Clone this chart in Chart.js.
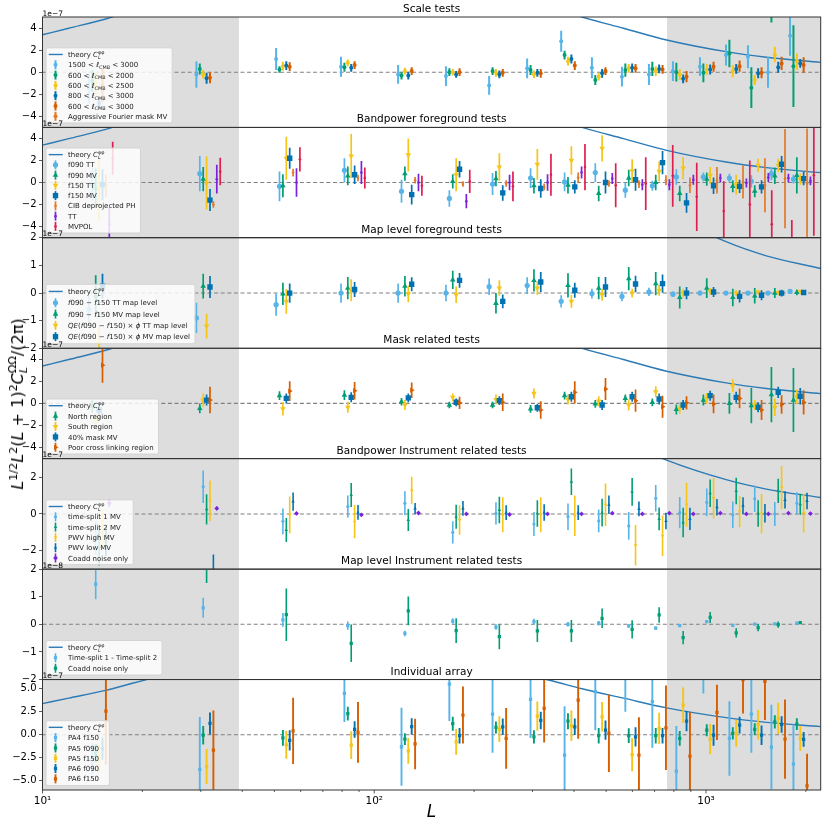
<!DOCTYPE html>
<html>
<head>
<meta charset="utf-8">
<script src="https://cdn.jsdelivr.net/npm/chart.js@4.4.1/dist/chart.umd.min.js"></script>
<style>
  html, body { margin: 0; padding: 0; background: #fff; }
  #fig { position: relative; width: 831px; height: 825px; overflow: hidden; font-family: "DejaVu Sans"; }
  #fig canvas { position: absolute; left: 0; }
  #ylab { position: absolute; left: 19px; top: 403.5px; transform: translate(-50%, -50%) rotate(-90deg);
          font: 16px "DejaVu Sans"; line-height: 16px; white-space: nowrap; color: #000; z-index: 5; }
  #ylab .sp { font-size: 70%; position: relative; top: -0.55em; }
  #ylab .ss { font-size: 70%; display: inline-block; position: relative; }
  #ylab .ss .up { position: relative; top: -0.6em; }
  #ylab .ss .dn { position: absolute; left: 0; top: 0.35em; }
</style>
</head>
<body>
<div id="fig">
  <div id="ylab"><i>L</i><span class="sp">1/2</span><i>L</i><span class="sp">2</span>(<i>L</i> + 1)<span class="sp">2</span><i>C</i><span class="ss"><span class="up">ΩΩ</span><span class="dn"><i>L</i></span></span>/(2π)</div>
</div>
<script>
// ---- data (values in units of the panel offset, 1e-7 or 1e-8) ----
const binL = [13.8, 29.1, 50.6, 79.4, 118, 164.5, 222, 289, 366, 453, 558, 673, 795, 959, 1149, 1338, 1538, 1792];
const theoryL = [10, 12, 15.5, 20.6, 28, 40, 60, 90, 140, 220, 280, 335, 423, 564, 761, 1150, 1520, 2217];
const theoryV = [3.39, 3.98, 4.82, 6.0, 7.0, 7.7, 8.1, 8.0, 7.6, 7.0, 6.5, 5.95, 5.0, 3.98, 2.92, 1.86, 1.35, 0.89];
const xTicks = [10, 100, 1000];
const ticksFive = [-4, -2, 0, 2, 4];
const ticksTwo = [-2, -1, 0, 1, 2];
const ticksThree = [-2, 0, 2];
const ticksSix = [-5, -2.5, 0, 2.5, 5];
const shadeLow = 39.1, shadeHigh = 763;

// Scale tests
const sc1500 = [-1.5, -0.2, 1.2, 0.5, -0.2, -0.35, -1.2, 0.35, 2.8, 0.4, -0.4, -0.2, 0.1, 0.5, 1.55, 1.4, 0.0, 3.3];
const sc1500Err = [1.3, 1.2, 1.0, 0.9, 0.85, 0.9, 0.85, 0.9, 0.95, 0.95, 0.9, 0.95, 0.9, 0.85, 0.95, 1.05, 1.4, 1.8];
const sc2000 = [-0.8, 0.3, 0.25, 0.45, -0.3, 0.0, 0.1, 0.2, 1.55, -0.7, 0.2, 0.3, 0.0, -0.05, 1.7, -1.4, 6.5, 0.55];
const sc2000Err = [1.0, 0.5, 0.3, 0.4, 0.35, 0.35, 0.35, 0.45, 0.4, 0.45, 0.6, 0.65, 0.85, 0.85, 1.25, 1.85, 2.0, 3.7];
const sc2500 = [-1.0, -0.2, 0.55, 0.85, 0.1, 0.0, -0.05, -0.2, 1.0, -0.4, 0.35, 0.1, -0.2, 0.25, 0.1, -0.7, 1.6, 0.95];
const sc2500Err = [1.0, 0.4, 0.4, 0.3, 0.3, 0.3, 0.35, 0.35, 0.4, 0.35, 0.4, 0.45, 0.5, 0.5, 0.55, 0.45, 0.7, 0.75];
const sc800 = [-2.8, -0.55, 0.6, 0.4, -0.3, -0.2, -0.2, -0.05, 1.2, -0.1, 0.4, 0.3, -0.6, 0.25, 0.3, -0.1, 0.45, 0.8];
const sc800Err = [0.5, 0.5, 0.4, 0.35, 0.35, 0.3, 0.35, 0.35, 0.4, 0.4, 0.4, 0.4, 0.4, 0.45, 0.45, 0.45, 0.5, 0.4];
const sc3000 = [-1.2, -0.5, 0.5, 0.65, 0.1, 0.0, -0.05, -0.1, 0.6, 0.1, 0.35, 0.25, -0.4, 0.5, 0.55, -0.05, 0.8, 0.65];
const sc3000Err = [1.5, 0.5, 0.4, 0.35, 0.35, 0.35, 0.35, 0.4, 0.4, 0.35, 0.4, 0.4, 0.5, 0.45, 0.5, 0.5, 0.6, 0.7];
const scAggr = [];
const scAggrErr = [];

// Bandpower foreground tests
const bf090TT = [-0.2, 0.8, -0.35, 1.1, -0.8, -1.45, -0.15, 0.4, 0.05, 0.9, -0.7, -0.3, 0.5, 0.5, 0.4, 0.1, 0.8, 0.3];
const bf090TTErr = [1.5, 1.6, 1.35, 1.1, 1.05, 0.75, 1.0, 0.9, 0.85, 0.85, 0.7, 0.45, 0.7, 0.4, 0.4, 0.55, 0.6, 0.4];
const bf090MV = [-0.5, 0.3, -0.3, 0.6, 0.8, 0.1, 0.35, -0.3, -0.25, -1.0, 0.4, 0.0, -1.0, 0.3, -0.35, -0.8, 0.6, 0.65];
const bf090MVErr = [1.8, 1.1, 1.05, 0.85, 0.65, 0.65, 0.7, 0.7, 0.75, 0.7, 0.75, 0.7, 0.7, 0.6, 0.55, 0.55, 0.75, 1.65];
const bf150TT = [-0.6, -0.05, 2.2, 2.4, 2.5, 0.7, 1.4, 1.65, 2.0, 3.1, 1.05, 1.0, 1.3, 0.65, -0.2, 1.55, 1.55, 0.3];
const bf150TTErr = [2.9, 2.4, 1.95, 2.0, 1.5, 1.5, 1.25, 1.4, 1.3, 1.2, 1.05, 0.9, 1.0, 0.75, 0.9, 0.6, 0.6, 0.5];
const bf150MV = [-0.2, -1.6, 2.2, 0.7, -1.1, 1.2, -0.95, -0.55, -0.4, 0.0, 0.25, 1.8, -1.85, -0.3, -0.35, -0.4, 1.65, 0.35];
const bf150MVErr = [1.4, 1.0, 0.95, 0.85, 0.9, 0.75, 0.7, 0.85, 0.6, 1.0, 1.0, 1.05, 0.9, 0.75, 0.6, 0.6, 0.75, 0.6];
const bfCIB = [-0.3, -2.0, 0.9, 0.4, 0.2, -0.15, -0.1, -0.4, 0.45, -0.1, -0.15, 0.2, -0.25, 0.2, 0.05, -0.25, 0.35, -0.1];
const bfCIBErr = [1.0, 0.3, 0.35, 0.3, 0.3, 0.25, 0.3, 0.3, 0.45, 0.3, 0.35, 0.45, 0.7, 1.2, 1.5, 2.45, 4.5, 5.0];
const bfTT = [-3.8, 0.3, 0.0, 0.9, 0.0, -1.7, 0.0, 0.0, 0.9, 0.35, -0.2, -0.2, 0.25, 0.4, -0.05, 0.45, 0.4, 0.15];
const bfTTErr = [1.5, 1.3, 1.3, 1.05, 0.8, 0.65, 0.7, 0.75, 0.55, 0.5, 0.5, 0.5, 0.45, 0.4, 0.4, 0.4, 0.4, 0.4];
const bfMVPOL = [2.2, 1.0, 2.1, 0.4, -0.3, 0.1, -0.35, 0.7, 1.4, -0.25, -0.1, 0.6, -1.3, -2.6, -2.0, -3.8, -6.5, 0.65];
const bfMVPOLErr = [1.5, 1.25, 1.1, 0.95, 0.9, 1.05, 1.35, 1.9, 2.1, 2.0, 2.4, 2.8, 3.1, 2.7, 4.0, 3.1, 3.1, 5.5];

// Map level foreground tests
const mlTT = [-0.6, -0.9, -0.42, 0.0, 0.0, 0.0, 0.23, 0.27, -0.3, -0.02, -0.12, 0.04, -0.04, 0.0, 0.0, 0.0, 0.0, 0.06];
const mlTTErr = [0.5, 0.55, 0.4, 0.35, 0.35, 0.3, 0.3, 0.3, 0.22, 0.18, 0.18, 0.15, 0.1, 0.08, 0.07, 0.07, 0.07, 0.05];
const mlMV = [-0.1, 0.25, -0.03, 0.18, 0.25, 0.48, -0.37, 0.46, 0.28, 0.18, 0.52, 0.34, -0.16, 0.18, -0.16, -0.1, 0.0, 0.02];
const mlMVErr = [0.75, 0.45, 0.4, 0.4, 0.37, 0.33, 0.37, 0.4, 0.44, 0.4, 0.42, 0.42, 0.4, 0.36, 0.32, 0.28, 0.18, 0.1];
const mlQeTT = [-1.8, -1.2, -0.3, 0.1, -0.03, -0.06, 0.18, 0.18, -0.3, -0.06, 0.0, 0.1, 0.0, 0.06, 0.0, 0.04, 0.02, 0.06];
const mlQeTTErr = [0.6, 0.45, 0.45, 0.4, 0.3, 0.3, 0.28, 0.25, 0.23, 0.22, 0.16, 0.2, 0.15, 0.12, 0.1, 0.07, 0.07, 0.05];
const mlQeMV = [0.25, 0.22, 0.0, 0.13, 0.32, 0.46, -0.3, 0.4, 0.1, 0.22, 0.33, 0.34, 0.0, 0.04, -0.12, -0.08, 0.0, 0.02];
const mlQeMVErr = [0.45, 0.4, 0.35, 0.27, 0.25, 0.27, 0.25, 0.36, 0.27, 0.36, 0.3, 0.33, 0.22, 0.18, 0.22, 0.18, 0.12, 0.07];

// Mask related tests
const mkNorth = [-0.3, -0.45, 0.7, 0.75, 0.15, -0.15, -0.15, -0.5, 0.7, -0.05, 0.45, 0.1, -0.55, 0.3, 0.0, -0.2, 0.8, 0.3];
const mkNorthErr = [0.6, 0.45, 0.4, 0.45, 0.35, 0.3, 0.3, 0.35, 0.35, 0.35, 0.35, 0.35, 0.45, 0.5, 0.95, 1.6, 2.5, 2.9];
const mkSouth = [-1.5, 0.3, -0.5, -0.35, -0.15, 0.55, 0.35, 0.9, 0.35, 0.2, -0.15, 1.05, -0.45, 0.45, 1.6, -0.15, -0.35, 0.6];
const mkSouthErr = [0.6, 0.6, 0.6, 0.5, 0.45, 0.35, 0.45, 0.45, 0.45, 0.45, 0.5, 0.5, 0.5, 0.5, 0.6, 0.45, 0.8, 0.65];
const mk40 = [-0.6, 0.3, 0.45, 0.55, 0.5, 0.1, 0.25, -0.4, 0.6, -0.15, 0.6, 0.4, -0.15, 0.7, 0.55, -0.35, 1.0, 0.65];
const mk40Err = [0.7, 0.5, 0.45, 0.45, 0.4, 0.35, 0.4, 0.35, 0.45, 0.45, 0.45, 0.5, 0.45, 0.45, 0.5, 0.45, 0.5, 0.75];
const mkPoorXL = [3.47, 0.3, 1.12, 1.15, 1.2, 0.05, 0.1, -0.6, 1.0, 1.3, 0.25, -0.3, 0.05, -0.05, 0.45, -0.6, -0.1, 0.1];
const mkPoorXLErr = [1.6, 1.2, 0.9, 0.8, 0.7, 0.55, 0.8, 0.8, 1.0, 1.0, 1.0, 1.0, 0.6, 0.85, 0.9, 0.9, 0.85, 1.1];

// Bandpower instrument related tests
const biTs1 = [-1.3, 1.48, -0.4, 0.4, 0.58, -1.0, 0.03, -0.55, -0.15, -0.38, -0.65, 0.85, 0.07, 0.63, -0.05, 0.82, 0.0, 0.58];
const biTs1Err = [0.9, 0.88, 0.7, 0.6, 0.65, 0.6, 0.6, 0.65, 0.72, 0.62, 0.75, 0.72, 0.85, 0.75, 0.72, 0.72, 0.65, 0.6];
const biTs2 = [-1.8, 0.25, -0.87, 1.03, -0.33, -0.15, 0.22, 0.03, 1.75, 0.07, 1.2, -0.27, -0.47, 1.12, 1.25, 0.02, 1.25, 0.53];
const biTs2Err = [1.0, 0.82, 0.65, 0.65, 0.6, 0.65, 0.72, 0.72, 0.72, 0.75, 0.75, 0.62, 0.8, 0.75, 0.72, 0.72, 0.66, 0.57];
const biPwvHi = [-0.8, 0.72, -0.05, -0.42, 1.27, -0.33, -0.05, -0.05, -0.1, 0.5, -1.7, -1.18, 0.5, 0.85, 0.13, 0.02, 1.43, 0.04];
const biPwvHiErr = [1.0, 1.1, 1.0, 0.9, 0.75, 0.8, 0.95, 0.95, 1.1, 1.15, 1.1, 1.1, 1.2, 1.1, 0.85, 1.08, 1.18, 1.05];
const biPwvLo = [-1.5, -3.3, 0.67, 0.08, 0.3, 0.3, 0.07, 0.08, 0.07, 0.5, 0.27, -0.38, -0.27, 0.36, 0.45, 0.04, 0.76, 0.7];
const biPwvLoErr = [0.8, 1.1, 0.5, 0.4, 0.3, 0.4, 0.4, 0.45, 0.4, 0.5, 0.4, 0.45, 0.6, 0.45, 0.45, 0.5, 0.47, 0.45];
const biNoise = [0.58, 0.3, 0.03, -0.05, 0.05, 0.0, -0.03, 0.0, 0.0, 0.04, 0.0, 0.04, 0.0, 0.04, 0.0, 0.0, 0.04, 0.02];
const biNoiseErr = [0.2, 0.1, 0.08, 0.08, 0.05, 0.05, 0.05, 0.05, 0.05, 0.05, 0.05, 0.05, 0.05, 0.05, 0.05, 0.05, 0.05, 0.05];

// Map level instrument related tests (1e-8)
const miDiff = [1.46, 0.6, 0.16, -0.05, -0.33, 0.12, -0.1, 0.1, 0.0, 0.04, -0.06, -0.14, -0.05, 0.1, -0.04, 0.01, 0.02, 0.04];
const miDiffErr = [0.55, 0.36, 0.25, 0.15, 0.1, 0.1, 0.1, 0.1, 0.08, 0.08, 0.06, 0.06, 0.05, 0.06, 0.04, 0.03, 0.03, 0.03];
const miNoise = [2.6, 2.1, 0.35, -0.69, 0.49, -0.23, -0.45, -0.24, -0.24, 0.22, -0.18, 0.34, -0.48, 0.25, -0.31, -0.12, -0.01, 0.06];
const miNoiseErr = [0.6, 0.6, 0.95, 0.68, 0.52, 0.45, 0.45, 0.4, 0.4, 0.35, 0.33, 0.28, 0.24, 0.2, 0.17, 0.13, 0.11, 0.05];

// Individual array
const iaPA4f150 = [-2.6, -3.77, null, 4.5, -1.3, 5.5, 2.25, 3.84, -2.2, 4.7, 7.0, 3.6, -3.95, 8.0, -0.4, 2.25, -1.33, -3.15];
const iaPA4f150Err = [1.7, 5.7, null, 3.1, 4.25, 4.0, 4.2, 4.2, 5.3, 4.2, 4.5, 5.0, 4.9, 3.5, 4.05, 4.2, 4.6, 4.27];
const iaPA5f090 = [-2.0, -0.05, -0.33, 2.3, -0.47, 1.2, 0.8, -0.22, 1.48, -0.1, -0.1, -0.1, -0.4, 0.5, 0.15, 0.6, 1.4, 1.16];
const iaPA5f090Err = [1.0, 1.0, 0.85, 0.75, 0.65, 0.75, 0.65, 0.72, 0.87, 0.85, 0.8, 0.85, 0.8, 0.65, 0.67, 0.65, 0.72, 0.65];
const iaPA5f150 = [-2.6, -3.45, -1.1, -1.12, -1.74, -0.76, 0.62, 2.03, 0.98, 1.95, -2.15, 0.7, 3.22, -0.47, 0.15, 1.1, 1.78, -0.4];
const iaPA5f150Err = [1.5, 1.9, 1.5, 1.5, 1.4, 1.4, 1.4, 1.6, 1.65, 1.6, 1.8, 1.7, 1.95, 1.65, 1.45, 1.6, 1.7, 1.35];
const iaPA6f090 = [-1.5, 1.23, -0.6, 0.58, 0.9, -0.1, 0.87, 1.56, 0.87, 0.5, -0.22, -0.1, 1.48, -0.05, 1.05, -0.05, 1.12, -0.5];
const iaPA6f090Err = [1.2, 1.2, 1.1, 0.9, 0.9, 0.85, 0.9, 0.95, 0.9, 1.05, 1.05, 0.85, 1.1, 1.15, 0.9, 1.05, 0.9, 0.8];
const iaPA6f150 = [2.57, -1.67, 0.43, 0.25, -1.0, 2.14, -0.4, 2.86, 3.77, 0.15, -2.2, 0.76, -2.32, 2.43, 6.0, 5.8, -0.47, -5.55];
const iaPA6f150Err = [5.8, 4.3, 3.6, 3.3, 2.75, 3.1, 3.3, 3.7, 4.2, 4.2, 4.1, 4.6, 4.8, 3.0, 3.7, 4.2, 4.3, 3.5];

// ---- styling ----
const C = { lb: '#56B4E9', gr: '#009E73', ye: '#F5C518', bl: '#0072B2', or: '#D55E00', or2: '#E27A2A',
            pu: '#7B22DC', rd: '#DE1F4F', th: '#2C7BB6' };
const FONT = '"DejaVu Sans"';
const SLOT = Math.pow(10, 3.4 / 331.75);   // horizontal dodge between series in a bin
const TOP = 17, BOTTOM = 790, RIGHT = 820.7, YAXIS_W = 42.5, W = 831, H = 825;
const PH = (BOTTOM - TOP) / 7;

const mk = (shape, r, rot) => ({ shape, r, rot: rot || 0 });
const panels = [
  { title: 'Scale tests', unit: '1e\u22127', min: -5, max: 5, ticks: ticksFive, thScale: 1, rowH: 10.3, bw: 2,
    slots: [0, 1, 2, 3, 4, 4],
    series: [
      ['1500 < *ℓ*_{CMB} < 3000', C.lb, sc1500, sc1500Err, mk('circle', 2)],
      ['600 < *ℓ*_{CMB} < 2000', C.gr, sc2000, sc2000Err, mk('circle', 2)],
      ['600 < *ℓ*_{CMB} < 2500', C.ye, sc2500, sc2500Err, mk('circle', 2)],
      ['800 < *ℓ*_{CMB} < 3000', C.bl, sc800, sc800Err, mk('circle', 2)],
      ['600 < *ℓ*_{CMB} < 3000', C.or, sc3000, sc3000Err, mk('circle', 2)],
      ['Aggressive Fourier mask MV', C.or2, scAggr, scAggrErr, mk('circle', 2)]] },
  { title: 'Bandpower foreground tests', unit: '1e\u22127', min: -5, max: 5, ticks: ticksFive, thScale: 1, rowH: 10.25, bw: 1.7,
    slots: [1, 2, 3, 4, 5, 6, 7],
    series: [
      ['f090 TT', C.lb, bf090TT, bf090TTErr, mk('circle', 2.6)],
      ['f090 MV', C.gr, bf090MV, bf090MVErr, mk('triangle', 3.2)],
      ['f150 TT', C.ye, bf150TT, bf150TTErr, mk('triangle', 3.2, 180)],
      ['f150 MV', C.bl, bf150MV, bf150MVErr, mk('rect', 3.8)],
      ['CIB deprojected PH', C.or2, bfCIB, bfCIBErr, mk('circle', 1.3)],
      ['TT', C.pu, bfTT, bfTTErr, mk('circle', 1.3)],
      ['MVPOL', C.rd, bfMVPOL, bfMVPOLErr, mk('circle', 1.3)]] },
  { title: 'Map level foreground tests', unit: '1e\u22127', min: -2, max: 2, ticks: ticksTwo, thScale: 1, rowH: 11.3, bw: 1.7,
    slots: [0, 2, 3, 4],
    series: [
      ['*f*090 \u2212 *f*150 TT map level', C.lb, mlTT, mlTTErr, mk('circle', 2.6)],
      ['*f*090 \u2212 *f*150 MV map level', C.gr, mlMV, mlMVErr, mk('triangle', 3.2)],
      ['*QE*(*f*090 \u2212 *f*150) \u00d7 *ϕ* TT map level', C.ye, mlQeTT, mlQeTTErr, mk('triangle', 3.2, 180)],
      ['*QE*(*f*090 \u2212 *f*150) \u00d7 *ϕ* MV map level', C.bl, mlQeMV, mlQeMVErr, mk('rect', 3.8)]] },
  { title: 'Mask related tests', unit: '1e\u22127', min: -5, max: 5, ticks: ticksFive, thScale: 1, rowH: 10.4, bw: 1.7,
    slots: [1, 2, 3, 4],
    series: [
      ['North region', C.gr, mkNorth, mkNorthErr, mk('triangle', 3.2)],
      ['South region', C.ye, mkSouth, mkSouthErr, mk('triangle', 3.2, 180)],
      ['40% mask MV', C.bl, mk40, mk40Err, mk('rect', 3.8)],
      ['Poor cross linking region', C.or, mkPoorXL, mkPoorXLErr, mk('triangle', 3, 90)]] },
  { title: 'Bandpower Instrument related tests', unit: '1e\u22127', min: -3, max: 3, ticks: ticksThree, thScale: 1, rowH: 10.3, bw: 1.6,
    slots: [2, 3, 4, 5, 6],
    series: [
      ['time-split 1 MV', C.lb, biTs1, biTs1Err, mk('circle', 1.6)],
      ['time-split 2 MV', C.gr, biTs2, biTs2Err, mk('triangle', 2)],
      ['PWV high MV', C.ye, biPwvHi, biPwvHiErr, mk('triangle', 2, 180)],
      ['PWV low MV', C.bl, biPwvLo, biPwvLoErr, mk('triangle', 2)],
      ['Coadd noise only', C.pu, biNoise, biNoiseErr, mk('rectRot', 2.4)]] },
  { title: 'Map level Instrument related tests', unit: '1e\u22128', min: -2, max: 2, ticks: ticksTwo, thScale: 10, rowH: 10.5, bw: 1.6,
    slots: [2, 3],
    series: [
      ['Time-split 1 - Time-split 2', C.lb, miDiff, miDiffErr, mk('rect', 2.3)],
      ['Coadd noise only', C.gr, miNoise, miNoiseErr, mk('rect', 2.3)]] },
  { title: 'Individual array', unit: '1e\u22127', min: -6, max: 6, ticks: ticksSix, thScale: 1, rowH: 10.3, bw: 1.9, dec: true,
    slots: [1, 2, 3, 4, 5],
    series: [
      ['PA4 f150', C.lb, iaPA4f150, iaPA4f150Err, mk('rect', 2.3)],
      ['PA5 f090', C.gr, iaPA5f090, iaPA5f090Err, mk('rect', 2.3)],
      ['PA5 f150', C.ye, iaPA5f150, iaPA5f150Err, mk('rect', 2.3)],
      ['PA6 f090', C.bl, iaPA6f090, iaPA6f090Err, mk('rect', 2.3)],
      ['PA6 f150', C.or, iaPA6f150, iaPA6f150Err, mk('rect', 2.3)]] }
];

// ---- small rich-text helper: *italic*, _{sub}, ^{sup} ----
function parseRich(s) {
  const out = [], re = /([_^])\{([^}]*)\}|\*([^*]*)\*|([^_^*]+)/g;
  let m;
  while ((m = re.exec(s))) {
    if (m[1]) {
      let t = m[2], it = false;
      if (/^\*.*\*$/.test(t)) { t = t.slice(1, -1); it = true; }
      out.push({ t, it, mode: m[1] === '_' ? 'sub' : 'sup' });
    } else if (m[3] !== undefined) out.push({ t: m[3], it: true, mode: 'n' });
    else out.push({ t: m[4], it: false, mode: 'n' });
  }
  return out;
}
function drawRich(ctx, s, x, y, size, measureOnly) {
  let cx = x, subStart = null, subEnd = 0;
  ctx.textAlign = 'left';
  ctx.textBaseline = 'alphabetic';
  for (const seg of parseRich(s)) {
    const fs = seg.mode === 'n' ? size : size * 0.7;
    ctx.font = (seg.it ? 'italic ' : '') + fs + 'px ' + FONT;
    const w = ctx.measureText(seg.t).width;
    let dy = 0, sx = cx;
    if (seg.mode === 'sub') { dy = size * 0.25; subStart = cx; subEnd = cx + w; }
    else if (seg.mode === 'sup') { dy = -size * 0.42; if (subStart !== null) sx = subStart; }
    if (!measureOnly) ctx.fillText(seg.t, sx, y + dy);
    if (seg.mode === 'sup') { cx = subStart !== null ? Math.max(subEnd, sx + w) : cx + w; subStart = null; }
    else if (seg.mode === 'sub') cx = subEnd;
    else { cx += w; subStart = null; }
  }
  return cx - x;
}

function drawMarker(ctx, ds, x, y) {
  if (ds.pointRadius <= 0) return;
  if (Chart.helpers && Chart.helpers.drawPoint) {
    Chart.helpers.drawPoint(ctx, { pointStyle: ds.pointStyle, rotation: ds.pointRotation || 0,
      radius: ds.pointRadius, borderWidth: 0 }, x, y);
  } else {
    ctx.beginPath(); ctx.arc(x, y, ds.pointRadius, 0, Math.PI * 2); ctx.fill();
  }
}

const panelPlugin = {
  id: 'panel',
  beforeDatasetsDraw(chart) {
    const { ctx, chartArea: ca, scales: { x, y } } = chart;
    ctx.save();
    ctx.fillStyle = 'rgba(128,128,128,0.27)';
    const xl = x.getPixelForValue(shadeLow), xh = x.getPixelForValue(shadeHigh);
    ctx.fillRect(ca.left, ca.top, xl - ca.left, ca.height);
    ctx.fillRect(xh, ca.top, ca.right - xh, ca.height);
    const y0 = y.getPixelForValue(0);
    ctx.strokeStyle = '#808080';
    ctx.lineWidth = 1.1;
    ctx.setLineDash([4, 2.6]);
    ctx.beginPath(); ctx.moveTo(ca.left, y0); ctx.lineTo(ca.right, y0); ctx.stroke();
    ctx.restore();
  },
  beforeDatasetDraw(chart, args) {
    const ds = chart.data.datasets[args.index];
    if (!ds.errs) return;
    const { ctx, chartArea: ca } = chart, ys = chart.scales.y;
    ctx.save();
    ctx.beginPath(); ctx.rect(ca.left, ca.top, ca.width, ca.height); ctx.clip();
    ctx.strokeStyle = ds.pointBackgroundColor;
    ctx.lineWidth = ds.barWidth;
    args.meta.data.forEach((pt, k) => {
      const d = ds.data[k], e = ds.errs[k];
      if (d.y == null || e == null || !isFinite(pt.x)) return;
      ctx.beginPath();
      ctx.moveTo(pt.x, ys.getPixelForValue(d.y - e));
      ctx.lineTo(pt.x, ys.getPixelForValue(d.y + e));
      ctx.stroke();
    });
    ctx.restore();
  },
  afterDatasetsDraw(chart, args, o) {
    const { ctx, chartArea: ca } = chart;
    ctx.save();
    // frame
    ctx.strokeStyle = '#333'; ctx.lineWidth = 1;
    ctx.strokeRect(ca.left, ca.top, ca.width, ca.height);
    // legend
    const items = chart.data.datasets, fs = 7, rowH = o.rowH;
    let tw = 0;
    items.forEach(ds => { tw = Math.max(tw, drawRich(ctx, ds.label, 0, 0, fs, true)); });
    const bw = 22 + tw + 5, bh = items.length * rowH + 3;
    const x0 = ca.left + 3.5, y0 = ca.bottom - 4.5 - bh;
    ctx.fillStyle = 'rgba(255,255,255,0.82)';
    ctx.strokeStyle = '#d3d3d3'; ctx.lineWidth = 1;
    ctx.beginPath();
    if (ctx.roundRect) ctx.roundRect(x0, y0, bw, bh, 2); else ctx.rect(x0, y0, bw, bh);
    ctx.fill(); ctx.stroke();
    items.forEach((ds, j) => {
      const cy = y0 + 1.5 + rowH * (j + 0.5), hx = x0 + 9.5;
      if (ds.type === 'line') {
        ctx.strokeStyle = ds.borderColor; ctx.lineWidth = 1.4;
        ctx.beginPath(); ctx.moveTo(x0 + 2.7, cy); ctx.lineTo(x0 + 16.7, cy); ctx.stroke();
      } else {
        ctx.strokeStyle = ds.pointBackgroundColor; ctx.fillStyle = ds.pointBackgroundColor;
        ctx.lineWidth = ds.barWidth;
        ctx.beginPath(); ctx.moveTo(hx, cy - 4.5); ctx.lineTo(hx, cy + 4.5); ctx.stroke();
        drawMarker(ctx, ds, hx, cy);
      }
      ctx.fillStyle = '#222';
      drawRich(ctx, ds.label, x0 + 22, cy + 2.6, fs);
    });
    // title and offset text
    ctx.fillStyle = '#000';
    ctx.font = '10.5px ' + FONT; ctx.textAlign = 'center'; ctx.textBaseline = 'alphabetic';
    ctx.fillText(o.title, (ca.left + ca.right) / 2, ca.top - 5);
    ctx.font = '7.5px ' + FONT; ctx.textAlign = 'left';
    ctx.fillText(o.unit, ca.left, ca.top - 1.5);
    // x ticks and label on the bottom panel
    if (o.last) {
      const xs = chart.scales.x;
      ctx.strokeStyle = '#333'; ctx.lineWidth = 0.8;
      for (let e = 1; e <= 3; e++) {
        for (let k = 1; k <= 9; k++) {
          const v = k * Math.pow(10, e);
          if (v < xs.min || v > xs.max) continue;
          const px = xs.getPixelForValue(v), len = k === 1 ? 3.5 : 2;
          ctx.beginPath(); ctx.moveTo(px, ca.bottom); ctx.lineTo(px, ca.bottom + len); ctx.stroke();
        }
      }
      ctx.font = 'italic 17px ' + FONT; ctx.textAlign = 'center';
      ctx.fillText('L', (ca.left + ca.right) / 2, ca.bottom + 27);
    }
    ctx.restore();
  }
};

Chart.defaults.font.family = FONT;
const fig = document.getElementById('fig');
const fmt = (v, dec) => (dec ? v.toFixed(1) : String(v)).replace('-', '\u2212');
const sup = { 10: '10\u00b9', 100: '10\u00b2', 1000: '10\u00b3' };

panels.forEach((p, i) => {
  const top = TOP + i * PH, bot = top + PH, last = i === panels.length - 1;
  const cTop = Math.floor(top - 17);
  const cH = last ? H - cTop : Math.ceil(bot + 8) - cTop;
  const canvas = document.createElement('canvas');
  canvas.width = W; canvas.height = cH;
  canvas.style.top = cTop + 'px';
  canvas.style.width = W + 'px'; canvas.style.height = cH + 'px';
  fig.appendChild(canvas);

  const n = p.series.length;
  const datasets = [{
    type: 'line', label: 'theory *C*_{*L*}^{φφ}',
    data: theoryL.map((L, k) => ({ x: L, y: theoryV[k] * p.thScale })),
    borderColor: C.th, borderWidth: 1.4, pointRadius: 0, fill: false,
    cubicInterpolationMode: 'monotone', order: n + 1
  }];
  p.series.forEach(([label, color, vals, errs, m], s) => {
    datasets.push({
      type: 'scatter', label,
      data: vals.map((v, k) => ({ x: binL[k] * Math.pow(SLOT, p.slots[s]), y: v })),
      errs, barWidth: p.bw,
      pointStyle: m.shape, pointRotation: m.rot, pointRadius: m.r, pointHoverRadius: m.r,
      pointBackgroundColor: color, pointBorderColor: color, pointBorderWidth: 0,
      order: n - s
    });
  });

  new Chart(canvas, {
    type: 'scatter',
    data: { datasets },
    options: {
      responsive: false, animation: false, events: [],
      layout: { padding: { left: 0, right: W - RIGHT, top: top - cTop, bottom: last ? 0 : cTop + cH - bot } },
      plugins: {
        legend: { display: false }, tooltip: { enabled: false },
        panel: { title: p.title, unit: p.unit, rowH: p.rowH, last }
      },
      scales: {
        x: {
          type: 'logarithmic', min: 10, max: 2217, display: last,
          afterBuildTicks: s => { s.ticks = xTicks.map(v => ({ value: v })); },
          afterFit: s => { s.height = last ? 35 : 0; },
          grid: { display: false, drawTicks: false },
          border: { display: false },
          ticks: { callback: v => sup[v] || '', font: { size: 10.5 }, color: '#000', padding: 5,
                   maxRotation: 0, autoSkip: false }
        },
        y: {
          min: p.min, max: p.max,
          afterBuildTicks: s => { s.ticks = p.ticks.map(v => ({ value: v })); },
          afterFit: s => { s.width = YAXIS_W; },
          grid: { drawOnChartArea: false, drawTicks: true, tickLength: 3.5, tickColor: '#333', tickWidth: 0.8 },
          border: { display: false },
          ticks: { callback: v => fmt(v, p.dec), font: { size: 10 }, color: '#000', padding: 2.5 }
        }
      }
    },
    plugins: [panelPlugin]
  });
});
</script>
</body>
</html>
